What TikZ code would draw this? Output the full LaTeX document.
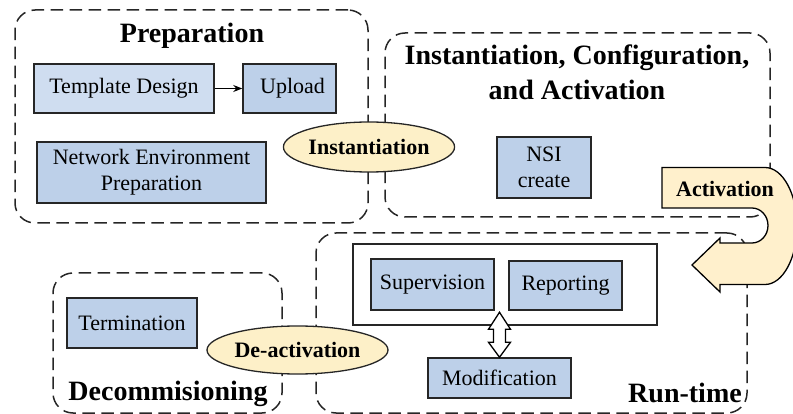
\documentclass[tikz,border=0pt]{standalone}
\usepackage{fontspec}
\setmainfont{LiberationSerif}[Extension=.ttf, UprightFont=*-Regular, BoldFont=*-Bold,
  ItalicFont=*-Italic, BoldItalicFont=*-BoldItalic]
\usetikzlibrary{arrows.meta,shapes.geometric}

\definecolor{boxblue}{RGB}{189,208,233}
\definecolor{boxlight}{RGB}{207,221,240}
\definecolor{ovalfill}{RGB}{253,240,200}
\definecolor{turnfill}{RGB}{255,240,204}

\begin{document}
\begin{tikzpicture}[x=1pt,y=-1pt,
  stage/.style={draw=black!85, line width=1.5pt, dash pattern=on 12.5pt off 6.5pt,
    rounded corners=20pt, inner sep=0pt},
  task/.style={draw=black!85, line width=1.5pt, fill=boxblue, inner sep=0pt,
    font=\fontsize{22}{26}\selectfont, align=center},
  phase/.style={draw=black!85, ellipse, line width=1.3pt, fill=ovalfill, inner sep=0pt,
    font=\fontsize{22}{26}\selectfont\bfseries},
  heading/.style={anchor=base, inner sep=0pt, font=\fontsize{28}{35}\selectfont\bfseries},
  turnlabel/.style={anchor=base, inner sep=0pt, font=\fontsize{22}{26}\selectfont\bfseries}
]
\clip (0,0) rectangle (793,414);

% dashed stage frames
\node[stage, minimum width=353, minimum height=213] (prep) at (191.5,116.5) {};
\node[stage, minimum width=385, minimum height=184] (inst) at (577.5,125) {};
\node[stage, minimum width=431, minimum height=180] (run) at (531.5,323) {};
\node[stage, minimum width=229, minimum height=140] (decom) at (167.5,343) {};

% stage titles
\node[heading] (prepT) at (192,43) {Preparation};
\node[heading] (instT1) at (577,65) {Instantiation, Configuration,};
\node[heading] (instT2) at (577,100) {and Activation};
\node[heading] (decomT) at (168,400) {Decommisioning};
\node[heading] (runT) at (685,402) {Run-time};

% preparation tasks
\node[task, fill=boxlight, minimum width=180, minimum height=49] (tmpl) at (124,88.5) {Template Design};
\node[task, minimum width=93, minimum height=49] (upload) at (289.5,88.5) {\hspace*{6pt}Upload};
\node[task, minimum width=229, minimum height=61] (netenv) at (151.5,172.5) {Network Environment\\Preparation};
\draw[line width=1.3pt, -{Stealth[length=9pt,width=7pt]}] (tmpl) -- (upload);

% instantiation task
\node[task, minimum width=94, minimum height=61] (nsi) at (544,167.5) {NSI\\create};

% run-time tasks
\node[draw=black!85, line width=1.5pt, minimum width=304, minimum height=81, inner sep=0pt] (monitor) at (505,284.5) {};
\node[task, minimum width=123, minimum height=51] (sup) at (432.5,284.5) {Supervision};
\node[task, minimum width=113, minimum height=49] (rep) at (565.5,285.5) {Reporting};
\node[task, minimum width=143, minimum height=40] (mod) at (499.5,378) {Modification};

% hollow two-way arrow between monitoring and modification
\draw[line width=1.3pt, fill=white, shift={(mod.north)}]
  (0,-45) -- (11,-28) -- (6,-28) -- (6,-15) -- (11,-15) -- (0,0)
  -- (-11,-15) -- (-6,-15) -- (-6,-28) -- (-11,-28) -- cycle;

% decommissioning task
\node[task, minimum width=130, minimum height=50] (term) at (132,323) {Termination};

% transitions
\node[phase, minimum width=158, minimum height=50] (instP) at (369,147) {Instantiation};
\node[phase, minimum width=181, minimum height=48] (deact) at (297.5,350) {De-activation};

% U-turn arrow for activation
\draw[line width=1.3pt, fill=turnfill, line join=miter]
  (662,167.5) -- (765,167.5)
  arc[start angle=-90, end angle=90, x radius=32, y radius=58.5]
  -- (720,284.5) -- (720,292) -- (692,265) -- (720,238) -- (720,243) -- (752,243)
  arc[start angle=90, end angle=-90, x radius=16, y radius=17.5]
  -- (662,208) -- cycle;
\node[turnlabel] (actT) at (725,197) {Activation};
\end{tikzpicture}
\end{document}
